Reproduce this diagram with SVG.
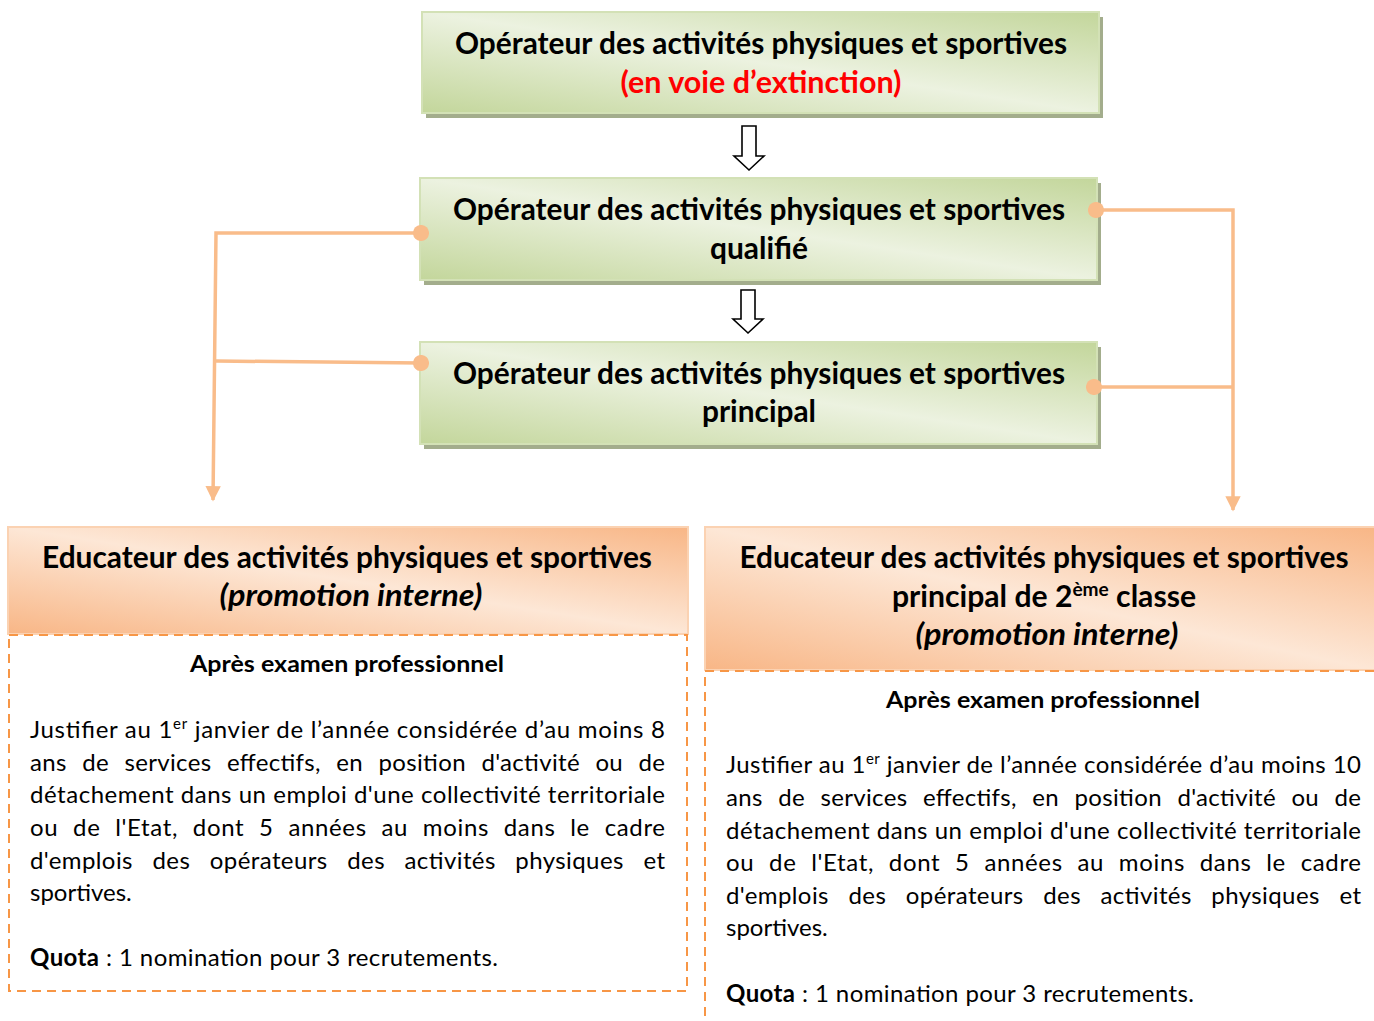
<svg xmlns="http://www.w3.org/2000/svg" width="1374" height="1021" viewBox="0 0 1374 1021">
<defs>
<linearGradient id="gGreen" x1="0" y1="1" x2="1" y2="0">
<stop offset="0" stop-color="#c3d69b"/>
<stop offset="0.5" stop-color="#ecf2e0"/>
<stop offset="1" stop-color="#c3d69b"/>
</linearGradient>
<linearGradient id="gOrange" x1="0" y1="1" x2="1" y2="0">
<stop offset="0" stop-color="#f8b686"/>
<stop offset="0.5" stop-color="#fde7d6"/>
<stop offset="1" stop-color="#f8b686"/>
</linearGradient>
<marker id="arr" viewBox="0 0 10 10" refX="9" refY="5" markerWidth="4.4" markerHeight="4.4" markerUnits="strokeWidth" orient="auto">
<path d="M0,0 L10,5 L0,10 Z" fill="#f9bc8a"/>
</marker>
<marker id="dot" viewBox="0 0 10 10" refX="5" refY="5" markerWidth="4.6" markerHeight="4.6" markerUnits="strokeWidth" orient="auto">
<circle cx="5" cy="5" r="5" fill="#f9bc8a"/>
</marker>
</defs>
<style>
.t{font-family:Lato,"Open Sans","Liberation Sans",sans-serif;fill:#000}
.h{font-size:30px;font-weight:bold;text-anchor:middle}
.b{font-size:24px}
.s{font-size:23px;font-weight:bold;text-anchor:middle}
.shadow{fill:#a3ad8c}
.gbox{fill:url(#gGreen);stroke:#d3e1b6;stroke-width:2}
.obox{fill:url(#gOrange);stroke:#fbd2b2;stroke-width:2}
.dash{fill:none;stroke:#f79646;stroke-width:2;stroke-dasharray:9 6}
.con{fill:none;stroke:#f9bc8a;stroke-width:3.5}
.hollow{fill:#fff;stroke:#000;stroke-width:1.6}
</style>
<rect width="1374" height="1021" fill="#fff"/>

<g id="node-operateur">
<rect class="shadow" x="426" y="17" width="677" height="101"/>
<rect class="gbox" x="422" y="12" width="677" height="101"/>
<text class="t h" x="761" y="54" textLength="612" lengthAdjust="spacingAndGlyphs">Opérateur des activités physiques et sportives</text>
<text class="t h" x="761" y="93" style="fill:#ff0000" textLength="281" lengthAdjust="spacingAndGlyphs">(en voie d’extinction)</text>
</g>

<g id="node-qualifie">
<rect class="shadow" x="424" y="183" width="677" height="102"/>
<rect class="gbox" x="420" y="178" width="677" height="102"/>
<text class="t h" x="759" y="220" textLength="612" lengthAdjust="spacingAndGlyphs">Opérateur des activités physiques et sportives</text>
<text class="t h" x="759" y="259" textLength="98" lengthAdjust="spacingAndGlyphs">qualifié</text>
</g>

<g id="node-principal">
<rect class="shadow" x="424" y="347" width="677" height="102"/>
<rect class="gbox" x="420" y="342" width="677" height="102"/>
<text class="t h" x="759" y="384" textLength="612" lengthAdjust="spacingAndGlyphs">Opérateur des activités physiques et sportives</text>
<text class="t h" x="759" y="422" textLength="114" lengthAdjust="spacingAndGlyphs">principal</text>
</g>

<g id="node-educateur">
<rect class="obox" x="8" y="527" width="680" height="107"/>
<text class="t h" x="347" y="568" textLength="610" lengthAdjust="spacingAndGlyphs">Educateur des activités physiques et sportives</text>
<text class="t h" x="351" y="606" font-style="italic" textLength="263" lengthAdjust="spacingAndGlyphs">(promotion interne)</text>
<rect class="dash" x="9" y="635" width="678" height="356"/>
<text class="t s" x="347" y="672" textLength="314" lengthAdjust="spacingAndGlyphs">Après examen professionnel</text>
<text class="t b" x="30" y="738" textLength="635" lengthAdjust="spacing">Justifier au 1<tspan font-size="15" dy="-9">er</tspan><tspan dy="9"> janvier de l’année considérée d’au moins 8</tspan></text>
<text class="t b" x="30" y="771" textLength="635" lengthAdjust="spacing" word-spacing="9">ans de services effectifs, en position d'activité ou de</text>
<text class="t b" x="30" y="803" textLength="635" lengthAdjust="spacing">détachement dans un emploi d'une collectivité territoriale</text>
<text class="t b" x="30" y="836" textLength="635" lengthAdjust="spacing" word-spacing="8">ou de l'Etat, dont 5 années au moins dans le cadre</text>
<text class="t b" x="30" y="869" textLength="635" lengthAdjust="spacing" word-spacing="13">d'emplois des opérateurs des activités physiques et</text>
<text class="t b" x="30" y="901">sportives.</text>
<text class="t b" x="30" y="966" textLength="468" lengthAdjust="spacing"><tspan font-weight="bold">Quota</tspan> : 1 nomination pour 3 recrutements.</text>
</g>

<g id="node-educateur-principal">
<rect class="obox" x="705" y="527" width="670" height="143"/>
<text class="t h" x="1044" y="568" textLength="609" lengthAdjust="spacingAndGlyphs">Educateur des activités physiques et sportives</text>
<text class="t h" x="1044" y="607" textLength="304" lengthAdjust="spacingAndGlyphs">principal de 2<tspan font-size="19" dy="-11">ème</tspan><tspan dy="11"> classe</tspan></text>
<text class="t h" x="1047" y="645" font-style="italic" textLength="263" lengthAdjust="spacingAndGlyphs">(promotion interne)</text>
<rect class="dash" x="705" y="671" width="680" height="370"/>
<text class="t s" x="1043" y="708" textLength="314" lengthAdjust="spacingAndGlyphs">Après examen professionnel</text>
<text class="t b" x="726" y="773" textLength="635" lengthAdjust="spacing">Justifier au 1<tspan font-size="15" dy="-9">er</tspan><tspan dy="9"> janvier de l’année considérée d’au moins 10</tspan></text>
<text class="t b" x="726" y="806" textLength="635" lengthAdjust="spacing" word-spacing="9">ans de services effectifs, en position d'activité ou de</text>
<text class="t b" x="726" y="839" textLength="635" lengthAdjust="spacing">détachement dans un emploi d'une collectivité territoriale</text>
<text class="t b" x="726" y="871" textLength="635" lengthAdjust="spacing" word-spacing="8">ou de l'Etat, dont 5 années au moins dans le cadre</text>
<text class="t b" x="726" y="904" textLength="635" lengthAdjust="spacing" word-spacing="13">d'emplois des opérateurs des activités physiques et</text>
<text class="t b" x="726" y="936">sportives.</text>
<text class="t b" x="726" y="1002" textLength="468" lengthAdjust="spacing"><tspan font-weight="bold">Quota</tspan> : 1 nomination pour 3 recrutements.</text>
</g>

<g id="connectors">
<polyline class="con" points="421,233 216,233 213,500" marker-start="url(#dot)" marker-end="url(#arr)"/>
<polyline class="con" points="421,363 216,361" marker-start="url(#dot)"/>
<polyline class="con" points="1096,210 1233,210 1233,510" marker-start="url(#dot)" marker-end="url(#arr)"/>
<polyline class="con" points="1094,387 1233,387" marker-start="url(#dot)"/>
<path class="hollow" d="M742,126 H756 V156 H764 L749,170 L734,156 H742 Z"/>
<path class="hollow" d="M741,290 H755 V319 H763 L748,333 L733,319 H741 Z"/>
</g>
</svg>
